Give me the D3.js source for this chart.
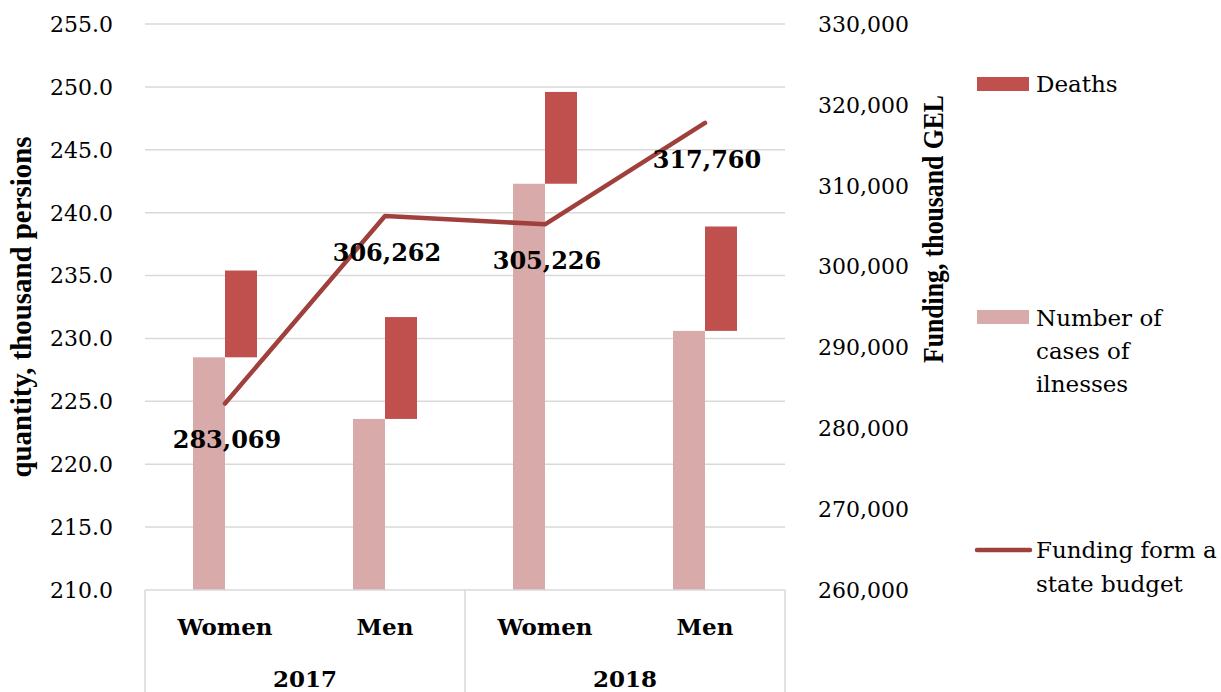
<!DOCTYPE html>
<html><head><meta charset="utf-8">
<script src="https://cdn.jsdelivr.net/npm/d3@7"></script>
<style>body{margin:0;background:#fff}svg{display:block}</style>
</head><body>
<svg id="c" width="1221" height="692"></svg>
<script>
const years = ["2017","2017","2018","2018"];
const genders = ["Women","Men","Women","Men"];
const cases = [228.5, 223.6, 242.3, 230.6];
const deaths = [6.9, 8.1, 7.3, 8.3];
const funding = [283069, 306262, 305226, 317760];
const leftTicks = [210,215,220,225,230,235,240,245,250,255];
const rightTicks = [260000,270000,280000,290000,300000,310000,320000,330000];
const yearGroups = ["2017","2018"];

const cDeaths = "#C0504D", cCases = "#D9AAAA", cLine = "#A0403C", cGrid = "#D9D9D9";
const svg = d3.select("#c");
const keys = genders.map((g,i)=>years[i]+"|"+g);
const x = d3.scaleBand().domain(keys).range([145,785]).padding(0);
const yL = d3.scaleLinear().domain([210,255]).range([590,24]);
const yR = d3.scaleLinear().domain([260000,330000]).range([590,24]);
const bw = x.bandwidth()*0.2;
const cx = k => x(k)+x.bandwidth()/2;

// gridlines
svg.append("g").selectAll("line").data(leftTicks.filter(t=>t>210)).join("line")
  .attr("x1",145).attr("x2",785).attr("y1",d=>yL(d)).attr("y2",d=>yL(d))
  .attr("stroke",cGrid).attr("stroke-width",1.5);

// left axis labels
const tickFont = "'DejaVu Serif', serif";
svg.append("g").selectAll("text").data(leftTicks).join("text")
  .attr("x",113).attr("y",d=>yL(d)).attr("dy","0.36em").attr("text-anchor","end")
  .attr("font-family",tickFont).attr("font-size",22).attr("fill","#000")
  .text(d=>d3.format(".1f")(d));
// right axis labels
svg.append("g").selectAll("text").data(rightTicks).join("text")
  .attr("x",818).attr("y",d=>yR(d)).attr("dy","0.36em").attr("text-anchor","start")
  .attr("font-family",tickFont).attr("font-size",22).attr("fill","#000")
  .text(d=>d3.format(",")(d));

// bars
svg.append("g").selectAll("rect").data(keys).join("rect")
  .attr("x",k=>cx(k)-bw).attr("width",bw)
  .attr("y",(k,i)=>yL(cases[i])).attr("height",(k,i)=>yL(210)-yL(cases[i]))
  .attr("fill",cCases);
svg.append("g").selectAll("rect").data(keys).join("rect")
  .attr("x",k=>cx(k)).attr("width",bw)
  .attr("y",(k,i)=>yL(cases[i]+deaths[i])).attr("height",(k,i)=>yL(cases[i])-yL(cases[i]+deaths[i]))
  .attr("fill",cDeaths);

// x axis box
const box = svg.append("g").attr("stroke",cGrid).attr("stroke-width",1.5);
box.append("line").attr("x1",145).attr("x2",785).attr("y1",yL(210)).attr("y2",yL(210));
[145,465,785].forEach(v=>box.append("line").attr("x1",v).attr("x2",v).attr("y1",yL(210)).attr("y2",692));

const boldFont = "'DejaVu Serif', serif";
svg.append("g").selectAll("text").data(keys).join("text")
  .attr("x",k=>cx(k)).attr("y",635).attr("text-anchor","middle")
  .attr("font-family",boldFont).attr("font-weight","bold").attr("font-size",23)
  .text((k,i)=>genders[i]);
svg.append("g").selectAll("text").data(yearGroups).join("text")
  .attr("x",(d,i)=>145+160+i*320).attr("y",687).attr("text-anchor","middle")
  .attr("font-family",boldFont).attr("font-weight","bold").attr("font-size",23)
  .text(d=>d);

// line
const line = d3.line().x((d,i)=>cx(keys[i])).y(d=>yR(d));
svg.append("path").datum(funding).attr("d",line).attr("fill","none")
  .attr("stroke",cLine).attr("stroke-width",4.5).attr("stroke-linecap","round").attr("stroke-linejoin","round");
svg.append("g").selectAll("text").data(funding).join("text")
  .attr("x",(d,i)=>cx(keys[i])+2).attr("y",d=>yR(d)+45).attr("text-anchor","middle")
  .attr("font-family",boldFont).attr("font-weight","bold").attr("font-size",24)
  .text(d=>d3.format(",")(d));

// axis titles
const titleFont = "'Liberation Serif', serif";
svg.append("text").attr("transform","translate(31,307) rotate(-90)").attr("text-anchor","middle")
  .attr("font-family",titleFont).attr("font-weight","bold").attr("font-size",29)
  .attr("textLength",341).attr("lengthAdjust","spacingAndGlyphs")
  .text("quantity, thousand persions");
svg.append("text").attr("transform","translate(943,229) rotate(-90)").attr("text-anchor","middle")
  .attr("font-family",titleFont).attr("font-weight","bold").attr("font-size",30)
  .attr("textLength",268).attr("lengthAdjust","spacingAndGlyphs")
  .text("Funding, thousand GEL");

// legend
const lg = svg.append("g").attr("font-family",tickFont).attr("font-size",23);
lg.append("rect").attr("x",977).attr("y",77).attr("width",52).attr("height",14).attr("fill",cDeaths);
lg.append("text").attr("x",1036).attr("y",92).text("Deaths");
lg.append("rect").attr("x",977).attr("y",310).attr("width",52).attr("height",14).attr("fill",cCases);
["Number of","cases of","ilnesses"].forEach((t,i)=>lg.append("text").attr("x",1036).attr("y",326+i*33).text(t));
lg.append("line").attr("x1",977).attr("x2",1030).attr("y1",550).attr("y2",550).attr("stroke",cLine).attr("stroke-width",4.5).attr("stroke-linecap","round");
["Funding form a","state budget"].forEach((t,i)=>lg.append("text").attr("x",1036).attr("y",558+i*34).text(t));
</script>
</body></html>
